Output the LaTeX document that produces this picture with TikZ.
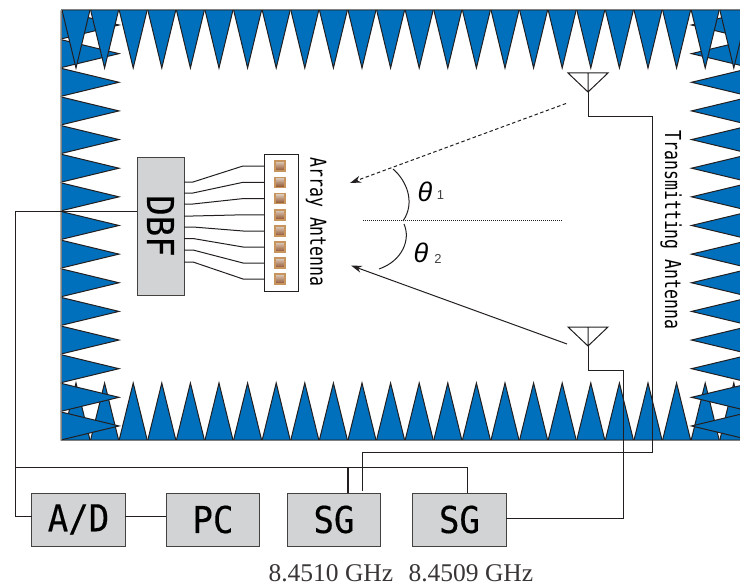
\documentclass[tikz,border=0pt]{standalone}
\usepackage{fontspec}
\usetikzlibrary{arrows.meta}
\setmainfont{Liberation Serif}
\newfontfamily\gothfont[FakeStretch=0.75]{DejaVu Sans Mono}
\newfontfamily\blockfont[FakeStretch=0.92, FakeBold=0.25]{DejaVu Sans Mono}
\newfontfamily\thetafont{Liberation Sans}
\definecolor{wedgeblue}{HTML}{0070BC}
\definecolor{boxgray}{HTML}{D1D3D4}
\definecolor{inkblack}{HTML}{231F20}
\definecolor{padedge}{HTML}{C8955E}
\definecolor{padtop}{HTML}{E0D0C0}
\definecolor{padbottom}{HTML}{8E4F28}

\begin{document}
\begin{tikzpicture}[x = 1pt, y = -1pt, >={Stealth[length = 11pt, width = 7pt]}, line width = 1pt,
	wedge/.style = {draw = inkblack, fill = wedgeblue},
	unit/.style = {draw = inkblack!85, fill = boxgray, outer sep = 0pt, inner sep = 0pt, minimum width = 93.5pt, minimum height = 53pt, font = \blockfont\fontsize{37}{37}\selectfont},
	wire/.style = {draw = inkblack},
	element/.style = {draw = padedge, line width = 1.4pt, top color = padtop, bottom color = padbottom, minimum size = 10pt, inner sep = 0pt, outer sep = 0pt},
	sidelabel/.style = {rotate = -90, inner sep = 0pt, font = \gothfont\fontsize{22}{22}\selectfont},
	angle/.style = {inner sep = 0pt, font = \thetafont\itshape\fontsize{27}{27}\selectfont},
	index/.style = {inner sep = 0pt, font = \thetafont\fontsize{13}{13}\selectfont, text = inkblack!85},
	freq/.style = {inner sep = 0pt, anchor = base west, font = \fontsize{25.5}{26}\selectfont, text = inkblack!90}]
	\path[use as bounding box, clip] (0,0) rectangle (740,586);
	% absorber
	\foreach \i in {0,...,23}
		\draw[wedge] ({62+\i*28.6},440) -- ({76+\i*28.6},383) -- ({90+\i*28.6},440) -- cycle;
	\foreach \i in {0,...,14} {
		\draw[wedge] (61,{11+\i*28.64}) -- (119,{25+\i*28.64}) -- (61,{39+\i*28.64}) -- cycle;
		\draw[wedge] (750,{11+\i*28.64}) -- (691.5,{25+\i*28.64}) -- (750,{39+\i*28.64}) -- cycle;
	}
	\foreach \i in {0,...,23}
		\draw[wedge] ({62+\i*28.6},10) -- ({76+\i*28.6},68) -- ({90+\i*28.6},10) -- cycle;
	\draw[gray] (741,10) -- (61,10) -- (61,440) -- (741,440);

	% boxes
	\node[unit, minimum width = 47pt, minimum height = 138pt] (dbf) at (160.5,226) {\rotatebox{-90}{DBF}};
	\node[draw = inkblack, fill = white, minimum width = 34pt, minimum height = 137pt, outer sep = 0pt] (array) at (281,222.5) {};
	\node[unit] (ad) at (78.5,519.5) {A/D};
	\node[unit] (pc) at (213,519.5) {PC};
	\node[unit] (sg1) at (334,519.5) {SG};
	\node[unit] (sg2) at (459.5,519.5) {SG};

	% array feeds
	\foreach \i/\a/\b in {1/182/166, 2/193/182.3, 3/204/198.6, 4/216/214.8, 5/227/231, 6/238.5/247, 7/250/263, 8/262/279} {
		\node[element] (e\i) at (280,\b) {};
		\draw[wire] (dbf.east |- 0,\a) -- (193,\a) -- (243,\b) -- (array.west |- e\i);
	}

	% antennas
	\coordinate (tx1) at (588,92);
	\coordinate (tx2) at (588,346);
	\draw[wire] (568,73) -- (608,73) -- (tx1) -- cycle (588,73) -- (tx1);
	\draw[wire] (568,327) -- (608,327) -- (tx2) -- cycle (588,327) -- (tx2);

	% cables
	\draw[wire] (dbf.west |- 0,211) -- (15,211) -- (15,516) -- (ad.west |- 0,516);
	\draw[wire] (ad.east |- 0,516.5) -- (pc.west |- 0,516.5);
	\draw[wire] (15,467.5) -- (467,467.5) -- (467,493);
	\draw[wire, line width = 1.8pt] (348,467.5) -- (348,493);
	\draw[wire] (362.5,491) -- (362.5,452.5) -- (652,452.5) -- (652,116.5) -- (588,116.5) -- (tx1);
	\draw[wire] (tx2) -- (588,370) -- (623,370) -- (623,518) -- (sg2.east |- 0,518);

	% incoming waves
	\coordinate (rx1) at (350,183);
	\coordinate (rx2) at (351,265.5);
	\draw[wire, ->, dash pattern = on 3.5pt off 2.5pt] (566,103.5) -- (rx1);
	\draw[wire, ->] (567,344) -- (rx2);
	\draw[wire, dash pattern = on 1pt off 1pt] (363,220.7) -- (562,220.7);
	\draw[wire] (393,169) .. controls (406,180) and (416,202) .. (403,221);
	\draw[wire] (404,224) .. controls (411,240) and (402,261) .. (379,269);

	% labels
	\node[angle] (theta1) at (425,192) {θ};
	\node[index] (index1) at (440.5,195) {1};
	\node[angle] (theta2) at (421,253) {θ};
	\node[index] (index2) at (438,258.5) {2};
	\node[sidelabel] (arraylabel) at (316,222) {Array Antenna};
	\node[sidelabel] (txlabel) at (671,230) {Transmitting Antenna};
	\node[freq] (freq1) at (268,581) {8.4510 GHz};
	\node[freq] (freq2) at (408,581) {8.4509 GHz};
\end{tikzpicture}
\end{document}
